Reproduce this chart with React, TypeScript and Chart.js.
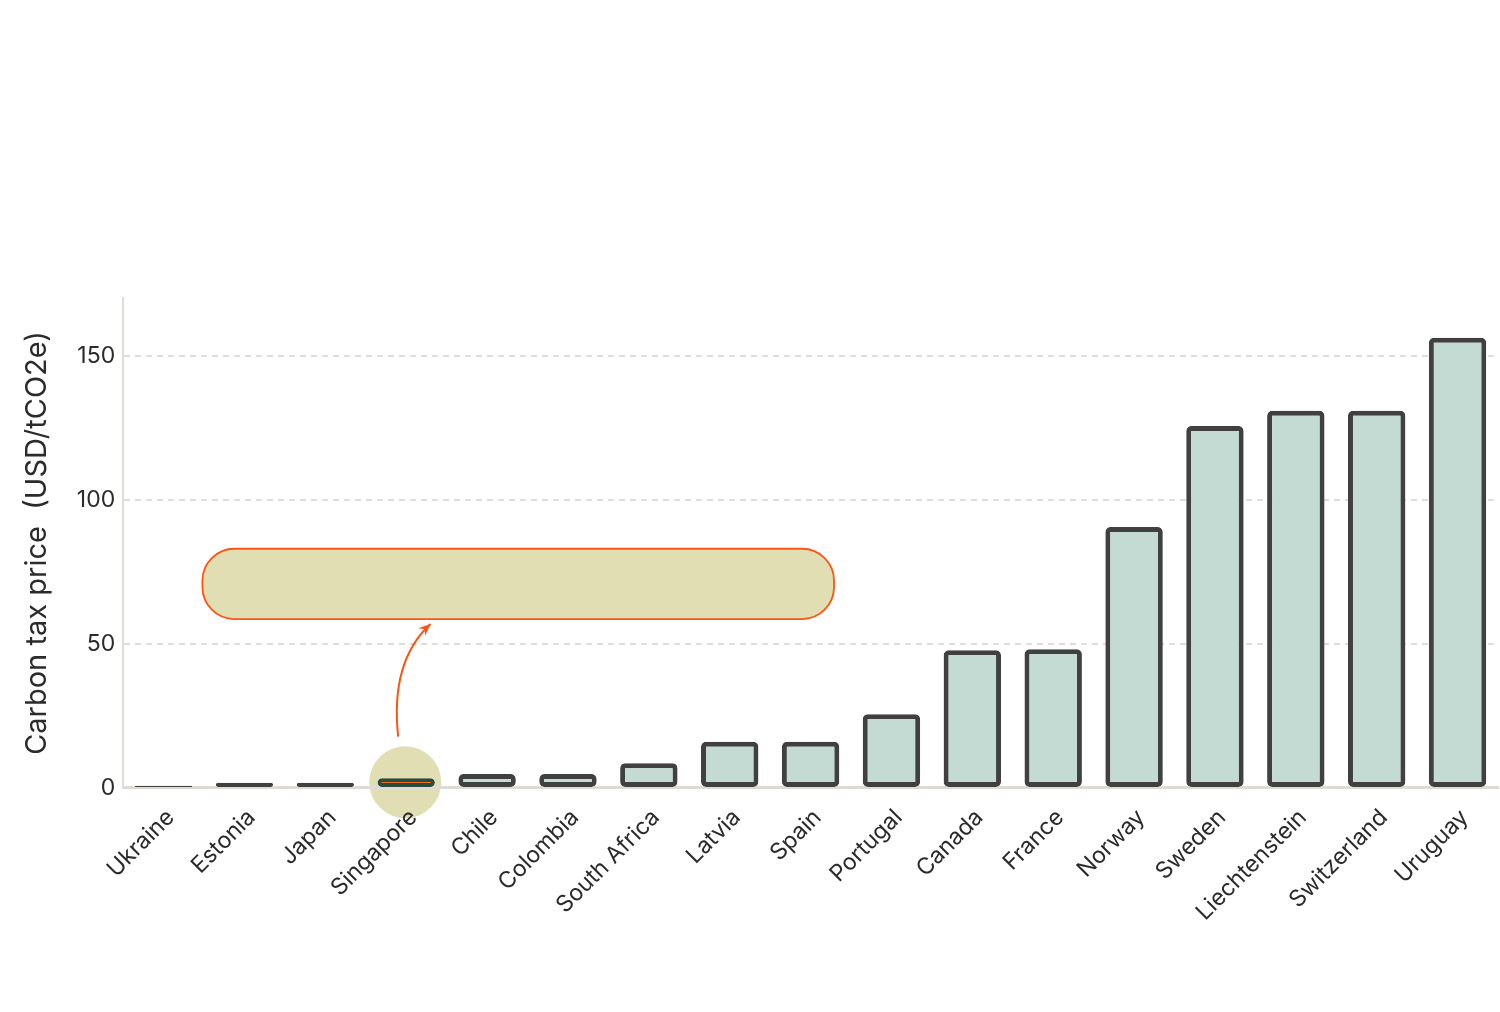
import { useEffect, useRef } from 'react';
import { Chart, registerables } from 'chart.js';

Chart.register(...registerables);

const categories = [
  'Ukraine', 'Estonia', 'Japan', 'Singapore', 'Chile', 'Colombia', 'South Africa', 'Latvia',
  'Spain', 'Portugal', 'Canada', 'France', 'Norway', 'Sweden', 'Liechtenstein', 'Switzerland', 'Uruguay',
];
const prices = [0.8, 1.8, 1.8, 3.4, 4.8, 4.8, 8.6, 16, 16, 25.6, 47.8, 48.1, 90.5, 125.6, 130.9, 130.9, 156.2];
const yTicks = [0, 50, 100, 150];
const highlighted = 'Singapore';

// callout box and arrow, in data units (category index, USD)
const calloutBox = { x0: 0.48, x1: 8.29, yTop: 83, yBottom: 58.6 };
const calloutArrow = { from: [2.9, 17.8], ctrl: [2.8, 44], to: [3.3, 56.9] };

const ORANGE = '#ff5311';
const BEIGE = '#e0deb2';

const highlightPlugin = {
  id: 'highlight',
  beforeDraw(chart: any) {
    const { ctx, scales } = chart;
    const i = categories.indexOf(highlighted);
    const x = scales.x.getPixelForValue(i);
    const y = scales.y.getPixelForValue(2);
    ctx.save();
    ctx.fillStyle = BEIGE;
    ctx.beginPath();
    ctx.arc(x - 1, y, 36, 0, Math.PI * 2);
    ctx.fill();
    ctx.restore();
  },
  afterDatasetsDraw(chart: any) {
    const { ctx, scales } = chart;
    const sx = scales.x;
    const sy = scales.y;
    const left = sx.getPixelForValue(calloutBox.x0);
    const right = sx.getPixelForValue(calloutBox.x1);
    const top = sy.getPixelForValue(calloutBox.yTop);
    const bottom = sy.getPixelForValue(calloutBox.yBottom);
    ctx.save();
    ctx.beginPath();
    ctx.roundRect(left, top, right - left, bottom - top, 32);
    ctx.fillStyle = BEIGE;
    ctx.fill();
    ctx.lineWidth = 1.8;
    ctx.strokeStyle = ORANGE;
    ctx.stroke();

    const [fx, fy] = [sx.getPixelForValue(calloutArrow.from[0]), sy.getPixelForValue(calloutArrow.from[1])];
    const [cx, cy] = [sx.getPixelForValue(calloutArrow.ctrl[0]), sy.getPixelForValue(calloutArrow.ctrl[1])];
    const [tx, ty] = [sx.getPixelForValue(calloutArrow.to[0]), sy.getPixelForValue(calloutArrow.to[1])];
    ctx.beginPath();
    ctx.moveTo(fx, fy);
    ctx.quadraticCurveTo(cx, cy, tx, ty);
    ctx.lineWidth = 2;
    ctx.stroke();
    // arrow head
    const ang = Math.atan2(ty - cy, tx - cx);
    const len = 13;
    ctx.beginPath();
    ctx.moveTo(tx, ty);
    ctx.lineTo(tx - len * Math.cos(ang - 0.4), ty - len * Math.sin(ang - 0.4));
    ctx.lineTo(tx - len * 0.6 * Math.cos(ang), ty - len * 0.6 * Math.sin(ang));
    ctx.lineTo(tx - len * Math.cos(ang + 0.4), ty - len * Math.sin(ang + 0.4));
    ctx.closePath();
    ctx.fillStyle = ORANGE;
    ctx.fill();
    ctx.restore();
  },
};

export default function App() {
  const chartRef = useRef<HTMLCanvasElement>(null);
  const chartInstance = useRef<Chart | null>(null);

  useEffect(() => {
    if (!chartRef.current) return;
    if (chartInstance.current) chartInstance.current.destroy();

    const ctx = chartRef.current.getContext('2d');
    if (!ctx) return;

    Chart.defaults.font.family = 'Inter, "Noto Sans", sans-serif';

    chartInstance.current = new Chart(ctx, {
      type: 'bar',
      data: {
        labels: categories,
        datasets: [{
          label: 'Carbon tax price',
          data: prices,
          backgroundColor: categories.map(c => c === highlighted ? ORANGE : '#c4dbd4'),
          borderColor: categories.map(c => c === highlighted ? '#284b3a' : '#404040'),
          borderWidth: categories.map(c => c === highlighted ? 4 : 5),
          borderRadius: 5,
          borderSkipped: false,
          barPercentage: 0.71,
          categoryPercentage: 1,
        }],
      },
      options: {
        animation: false,
        responsive: true,
        maintainAspectRatio: false,
        layout: { padding: { top: 298, left: 20, right: 2, bottom: 78 } },
        plugins: {
          legend: { display: false },
          tooltip: { enabled: false },
        },
        scales: {
          x: {
            grid: { display: false },
            border: { display: true, color: '#dedbd6', width: 3 },
            ticks: {
              color: '#2b2b2b',
              font: { size: 23 },
              minRotation: 45,
              maxRotation: 45,
              padding: 8,
              labelOffset: 7,
              autoSkip: false,
            },
          },
          y: {
            min: 0,
            max: 170,
            afterBuildTicks: (axis: any) => {
              axis.ticks = yTicks.map(v => ({ value: v }));
            },
            grid: { color: '#e0ddd8', lineWidth: 2, drawTicks: false },
            border: { display: true, dash: [6, 5], color: '#e0ddd8', width: 2 },
            ticks: { color: '#2b2b2b', font: { size: 23 }, padding: 8 },
            title: {
              display: true,
              text: 'Carbon tax price  (USD/tCO2e)',
              color: '#2b2b2b',
              font: { size: 29 },
              padding: { top: 0, bottom: 14 },
            },
          },
        },
      },
      plugins: [highlightPlugin],
    });

    return () => {
      if (chartInstance.current) {
        chartInstance.current.destroy();
        chartInstance.current = null;
      }
    };
  }, []);

  return (
    <div style={{ position: 'absolute', left: 0, top: 0, width: 1500, height: 1012, background: '#fff' }}>
      <canvas ref={chartRef} />
    </div>
  );
}
